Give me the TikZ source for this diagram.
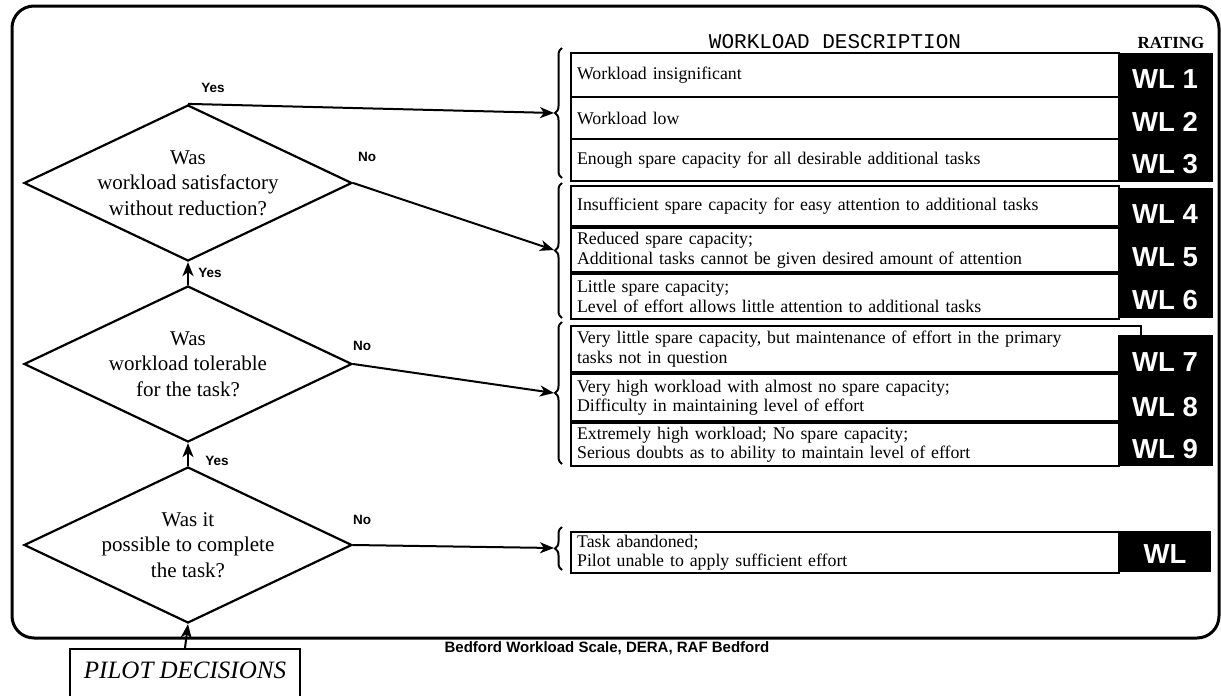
\documentclass[tikz,border=0pt]{standalone}
\usepackage{fontspec}
\setmainfont{Liberation Serif}
\setsansfont{Liberation Sans}
\setmonofont{Liberation Mono}
\usetikzlibrary{shapes.geometric,arrows.meta,decorations.pathreplacing}

\tikzset{
  question/.style={draw, line width=2.2pt, shape=diamond, aspect=2.1, inner sep=0pt,
    minimum width=328pt, minimum height=156pt, align=center,
    font=\fontsize{21}{25.5}\selectfont},
  desc/.style={draw, line width=2.2pt, anchor=north west, inner xsep=6pt, inner ysep=0pt,
    text width=536pt, align=left, font=\fontsize{17.8}{19.5}\selectfont},
  wl/.style={text=white, font=\sffamily\bfseries\fontsize{27.5}{27.5}\selectfont},
  answer/.style={font=\sffamily\bfseries\fontsize{13.5}{13.5}\selectfont},
  flow/.style={line width=2pt, -{Stealth[length=14pt,width=11pt,inset=4pt]}},
  bracket/.style={line width=2pt, decorate, decoration={brace, amplitude=7pt}},
}

\begin{document}
\begin{tikzpicture}[x=1pt,y=-1pt]
      \path[use as bounding box, clip] (0,0) rectangle (1221,696);
      \draw[line width=3pt, rounded corners=22pt] (12,6) rectangle (1219,638);

      % decisions
      \node[question] (q1) at (188,183) {Was\\workload satisfactory\\without reduction?};
      \node[question] (q2) at (188,364) {Was\\workload tolerable\\for the task?};
      \node[question] (q3) at (188,545) {Was it\\possible to complete\\the task?};
      \node[draw, line width=1.5pt, anchor=north, minimum width=230pt, inner sep=4pt,
        text height=26pt, text depth=32pt, font=\itshape\fontsize{25}{25}\selectfont]
        (pilot) at (185,648) {PILOT DECISIONS};

      % headings
      \node[font=\ttfamily\fontsize{21}{21}\selectfont] (head) at (835,42) {WORKLOAD DESCRIPTION};
      \node[font=\bfseries\fontsize{17}{17}\selectfont] (rathead) at (1171,43) {RATING};

      % workload descriptions
      \node[desc, minimum height=44pt] (r1) at (570,52) {Workload insignificant};
      \node[desc, minimum height=42pt] (r2) at (570,96) {Workload low};
      \node[desc, minimum height=42pt] (r3) at (570,138) {Enough spare capacity for all desirable additional tasks};
      \node[desc, minimum height=40pt] (r4) at (570,185) {Insufficient spare capacity for easy attention to additional tasks};
      \node[desc, minimum height=44pt] (r5) at (570,227) {Reduced spare capacity;\\Additional tasks cannot be given desired amount of attention};
      \node[desc, minimum height=45pt] (r6) at (570,273) {Little spare capacity;\\Level of effort allows little attention to additional tasks};
      \node[desc, minimum height=46pt, text width=558pt] (r7) at (570,325) {Very little spare capacity, but maintenance of effort in the primary\\tasks not in question};
      \node[desc, minimum height=47pt] (r8) at (570,373) {Very high workload with almost no spare capacity;\\Difficulty in maintaining level of effort};
      \node[desc, minimum height=43pt] (r9) at (570,422) {Extremely high workload; No spare capacity;\\Serious doubts as to ability to maintain level of effort};
      \node[desc, minimum height=41pt] (r10) at (570,531) {Task abandoned;\\Pilot unable to apply sufficient effort};

      % rating column
      \fill[black] (1118,53) rectangle (1213,182);
      \fill[black] (1118,188) rectangle (1213,318);
      \fill[black] (1118,335) rectangle (1213,466);
      \fill[black] (1118,531) rectangle (1211,572);
      \node[wl] (wl1) at (1165,79) {WL 1};
      \node[wl] (wl2) at (1165,122) {WL 2};
      \node[wl] (wl3) at (1165,164) {WL 3};
      \node[wl] (wl4) at (1165,214) {WL 4};
      \node[wl] (wl5) at (1165,257) {WL 5};
      \node[wl] (wl6) at (1165,300) {WL 6};
      \node[wl] (wl7) at (1165,362) {WL 7};
      \node[wl] (wl8) at (1165,407) {WL 8};
      \node[wl] (wl9) at (1165,449) {WL 9};
      \node[wl] (wl10) at (1165,554) {WL};

      % braces
      \draw[bracket] (562,178) -- (562,48);
      \draw[bracket] (562,318) -- (562,183);
      \draw[bracket] (562,464) -- (562,322);
      \draw[bracket] (562,570) -- (562,527);
      \coordinate (b1) at (554,113);
      \coordinate (b2) at (554,250);
      \coordinate (b3) at (554,393);
      \coordinate (b4) at (554,548);

      % connectors
      \draw[flow] (q1.north) -- (b1);
      \draw[flow] (q1.east) -- (b2);
      \draw[flow] (q2.east) -- (b3);
      \draw[flow] (q3.east) -- (b4);
      \draw[flow] (q2.north) -- (q1.south);
      \draw[flow] (q3.north) -- (q2.south);
      \draw[flow] (pilot.north) -- (q3.south);

      \node[answer] (y1) at (213,88) {Yes};
      \node[answer] (y2) at (210,273) {Yes};
      \node[answer] (y3) at (217,461) {Yes};
      \node[answer] (n1) at (367,157) {No};
      \node[answer] (n2) at (362,346) {No};
      \node[answer] (n3) at (362,520) {No};

      \node[answer, font=\sffamily\bfseries\fontsize{15}{15}\selectfont] (credit) at (607,648) {Bedford Workload Scale, DERA, RAF Bedford};
\end{tikzpicture}
\end{document}
